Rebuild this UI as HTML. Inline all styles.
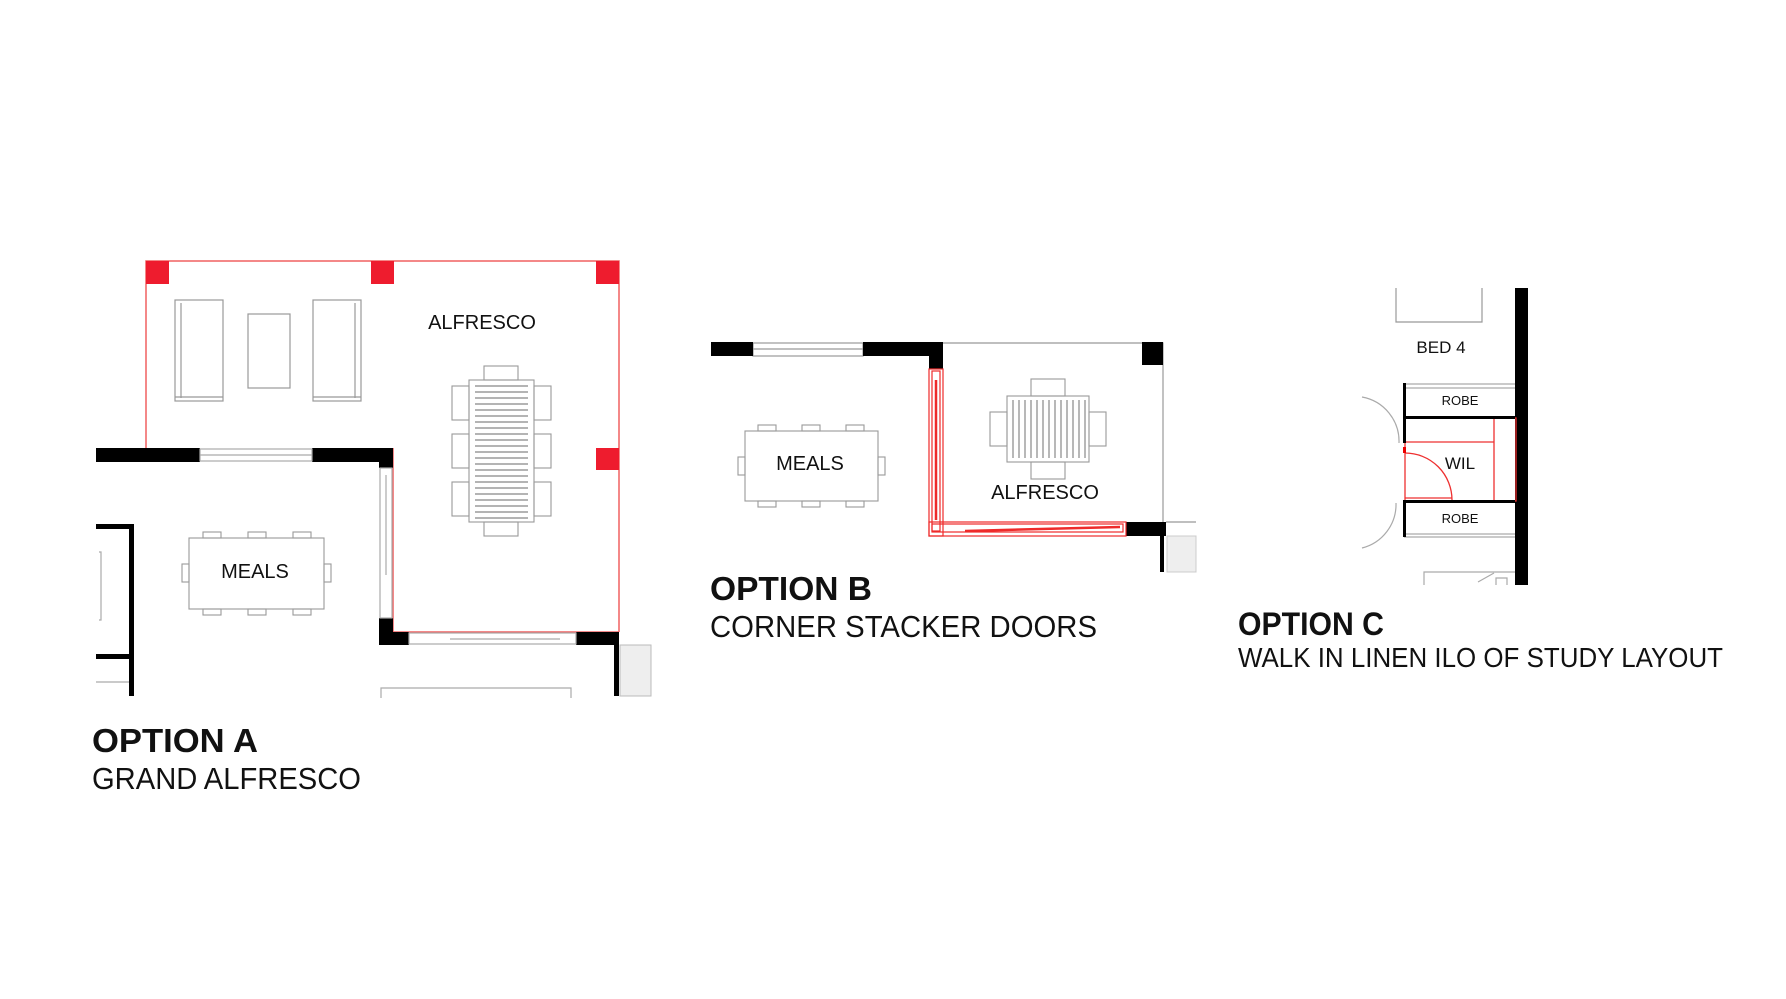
<!DOCTYPE html>
<html><head><meta charset="utf-8"><style>
html,body{margin:0;padding:0;background:#fff;}
svg{display:block;}
text{font-family:"Liberation Sans",sans-serif;fill:#111;}
</style></head><body>
<svg width="1786" height="999" viewBox="0 0 1786 999" xmlns="http://www.w3.org/2000/svg">
<!-- ===== OPTION A ===== -->
<g fill="none" stroke="#f06060" stroke-width="1.5">
  <polyline points="146,448 146,261 619,261 619,632"/>
  <polyline points="393,448 393,632 619,632"/>
</g>
<g fill="#ee1c2e">
  <rect x="146" y="261" width="23" height="23"/>
  <rect x="371" y="261" width="23" height="23"/>
  <rect x="596" y="261" width="23" height="23"/>
  <rect x="596" y="448" width="23" height="22"/>
</g>
<!-- sofas -->
<g fill="none" stroke="#999" stroke-width="1.2">
  <rect x="175" y="300" width="48" height="101"/>
  <line x1="181" y1="303" x2="181" y2="398"/>
  <line x1="175" y1="397" x2="223" y2="397"/>
  <rect x="248" y="314" width="42" height="74"/>
  <rect x="313" y="300" width="48" height="101"/>
  <line x1="355" y1="303" x2="355" y2="398"/>
  <line x1="313" y1="397" x2="361" y2="397"/>
</g>
<text x="482" y="329" font-size="20" text-anchor="middle">ALFRESCO</text>
<!-- dining table A -->
<g fill="none" stroke="#999" stroke-width="1.1">
  <rect x="469" y="380" width="65" height="142"/>
  <rect x="484" y="366" width="34" height="14"/>
  <rect x="484" y="522" width="34" height="14"/>
  <rect x="452" y="386" width="17" height="34"/><rect x="452" y="434" width="17" height="34"/><rect x="452" y="482" width="17" height="34"/>
  <rect x="534" y="386" width="17" height="34"/><rect x="534" y="434" width="17" height="34"/><rect x="534" y="482" width="17" height="34"/>
</g>
<g stroke="#888" stroke-width="1.3">
  <line x1="475" y1="386" x2="528" y2="386"/><line x1="475" y1="392" x2="528" y2="392"/><line x1="475" y1="398" x2="528" y2="398"/><line x1="475" y1="404" x2="528" y2="404"/><line x1="475" y1="410" x2="528" y2="410"/><line x1="475" y1="416" x2="528" y2="416"/><line x1="475" y1="422" x2="528" y2="422"/><line x1="475" y1="428" x2="528" y2="428"/><line x1="475" y1="434" x2="528" y2="434"/><line x1="475" y1="440" x2="528" y2="440"/><line x1="475" y1="446" x2="528" y2="446"/><line x1="475" y1="452" x2="528" y2="452"/><line x1="475" y1="458" x2="528" y2="458"/><line x1="475" y1="464" x2="528" y2="464"/><line x1="475" y1="470" x2="528" y2="470"/><line x1="475" y1="476" x2="528" y2="476"/><line x1="475" y1="482" x2="528" y2="482"/><line x1="475" y1="488" x2="528" y2="488"/><line x1="475" y1="494" x2="528" y2="494"/><line x1="475" y1="500" x2="528" y2="500"/><line x1="475" y1="506" x2="528" y2="506"/><line x1="475" y1="512" x2="528" y2="512"/><line x1="475" y1="518" x2="528" y2="518"/>
</g>
<!-- walls A -->
<g fill="#000">
  <rect x="96" y="448" width="104" height="14"/>
  <rect x="312" y="448" width="81" height="14"/>
  <rect x="379" y="448" width="14" height="20"/>
  <rect x="379" y="618" width="14" height="27"/>
  <rect x="379" y="632" width="30" height="13"/>
  <rect x="576" y="632" width="43" height="13"/>
  <rect x="614" y="632" width="5" height="64"/>
  <rect x="129" y="524" width="5" height="172"/>
  <rect x="96" y="524" width="38" height="5"/>
  <rect x="96" y="654" width="38" height="5"/>
</g>
<g fill="none" stroke="#aaa" stroke-width="1.2">
  <rect x="200" y="449" width="112" height="12"/>
  <line x1="200" y1="455" x2="312" y2="455"/>
  <rect x="380" y="468" width="12" height="150"/>
  <line x1="386" y1="475" x2="386" y2="575"/>
  <rect x="409" y="633" width="167" height="11"/>
  <line x1="450" y1="639" x2="560" y2="639"/>
  <polyline points="381,698 381,688 571,688 571,698"/>
  <polyline points="99,552 101,552 101,620 99,620"/>
  <line x1="96" y1="682" x2="129" y2="682"/>
</g>
<rect x="620" y="645" width="31" height="51" fill="#eee" stroke="#bbb"/>
<!-- meals A -->
<g fill="none" stroke="#999" stroke-width="1.1">
  <rect x="189" y="538" width="135" height="71"/>
  <rect x="203" y="532" width="18" height="6"/><rect x="248" y="532" width="18" height="6"/><rect x="293" y="532" width="18" height="6"/>
  <rect x="203" y="609" width="18" height="6"/><rect x="248" y="609" width="18" height="6"/><rect x="293" y="609" width="18" height="6"/>
  <rect x="182" y="564" width="7" height="18"/><rect x="324" y="564" width="7" height="18"/>
</g>
<text x="255" y="578" font-size="20" text-anchor="middle">MEALS</text>
<text x="92" y="752" font-size="33" font-weight="bold" textLength="166" lengthAdjust="spacingAndGlyphs">OPTION A</text>
<text x="92" y="789" font-size="31" textLength="269" lengthAdjust="spacingAndGlyphs">GRAND ALFRESCO</text>

<!-- ===== OPTION B ===== -->
<g fill="none" stroke="#999" stroke-width="1.2">
  <polyline points="943,343 1163,343 1163,522"/>
  <rect x="753" y="343" width="110" height="13"/>
  <line x1="753" y1="349" x2="863" y2="349"/>
  <line x1="1166" y1="522" x2="1196" y2="522"/>
</g>
<rect x="1167" y="536" width="29" height="36" fill="#eee" stroke="#ccc"/>
<g fill="#000">
  <rect x="711" y="342" width="42" height="14"/>
  <rect x="863" y="342" width="80" height="14"/>
  <rect x="929" y="342" width="14" height="27"/>
  <rect x="1142" y="342" width="21" height="23"/>
  <rect x="1126" y="522" width="40" height="14"/>
  <rect x="1160" y="522" width="4" height="50"/>
</g>
<g fill="none" stroke="#ee2a2a" stroke-width="1.2">
  <rect x="929" y="369" width="14" height="167"/>
  <rect x="932" y="371" width="8" height="160"/>
  <rect x="929" y="522" width="197" height="14"/>
  <rect x="932" y="524" width="191" height="8"/>
</g>
<g stroke="#ee2a2a" stroke-width="2.5">
  <line x1="936" y1="380" x2="936" y2="520"/>
  <line x1="965" y1="531" x2="1120" y2="527"/>
</g>
<!-- alfresco table B -->
<g fill="none" stroke="#999" stroke-width="1.1">
  <rect x="1007" y="396" width="82" height="66"/>
  <rect x="1031" y="379" width="34" height="17"/>
  <rect x="1031" y="462" width="34" height="17"/>
  <rect x="990" y="412" width="17" height="34"/>
  <rect x="1089" y="412" width="17" height="34"/>
</g>
<g stroke="#888" stroke-width="1.2">
  <line x1="1013" y1="400" x2="1013" y2="458"/><line x1="1019" y1="400" x2="1019" y2="458"/><line x1="1025" y1="400" x2="1025" y2="458"/><line x1="1031" y1="400" x2="1031" y2="458"/><line x1="1037" y1="400" x2="1037" y2="458"/><line x1="1043" y1="400" x2="1043" y2="458"/><line x1="1049" y1="400" x2="1049" y2="458"/><line x1="1055" y1="400" x2="1055" y2="458"/><line x1="1061" y1="400" x2="1061" y2="458"/><line x1="1067" y1="400" x2="1067" y2="458"/><line x1="1073" y1="400" x2="1073" y2="458"/><line x1="1079" y1="400" x2="1079" y2="458"/><line x1="1085" y1="400" x2="1085" y2="458"/>
</g>
<text x="1045" y="499" font-size="20" text-anchor="middle">ALFRESCO</text>
<!-- meals B -->
<g fill="none" stroke="#999" stroke-width="1.1">
  <rect x="745" y="431" width="133" height="70"/>
  <rect x="758" y="425" width="18" height="6"/><rect x="802" y="425" width="18" height="6"/><rect x="846" y="425" width="18" height="6"/>
  <rect x="758" y="501" width="18" height="6"/><rect x="802" y="501" width="18" height="6"/><rect x="846" y="501" width="18" height="6"/>
  <rect x="738" y="457" width="7" height="18"/><rect x="878" y="457" width="7" height="18"/>
</g>
<text x="810" y="470" font-size="20" text-anchor="middle">MEALS</text>
<text x="710" y="600" font-size="33" font-weight="bold" textLength="162" lengthAdjust="spacingAndGlyphs">OPTION B</text>
<text x="710" y="637" font-size="31" textLength="387" lengthAdjust="spacingAndGlyphs">CORNER  STACKER   DOORS</text>

<!-- ===== OPTION C ===== -->
<rect x="1515" y="288" width="13" height="297" fill="#000"/>
<polyline points="1396,288 1396,322 1482,322 1482,288" fill="none" stroke="#999" stroke-width="1.2"/>
<text x="1441" y="353" font-size="17" text-anchor="middle">BED 4</text>
<g fill="none" stroke="#aaa" stroke-width="1.2">
  <line x1="1404" y1="384" x2="1515" y2="384"/><line x1="1404" y1="388" x2="1515" y2="388"/>
  <line x1="1404" y1="534" x2="1515" y2="534"/><line x1="1404" y1="537" x2="1515" y2="537"/>
  <path d="M1362,397 A45,45 0 0 1 1399,443"/>
  <path d="M1396,503 A45,45 0 0 1 1362,548"/>
  <polyline points="1424,585 1424,572 1515,572"/>
  <polyline points="1496,585 1496,578 1507,578 1507,585"/>
  <line x1="1478" y1="582" x2="1494" y2="573"/>
</g>
<g fill="none" stroke="#ee3030" stroke-width="1.3">
  <rect x="1405" y="418" width="111" height="83"/>
  <line x1="1494" y1="418" x2="1494" y2="501"/>
  <line x1="1405" y1="442" x2="1494" y2="442"/>
  <path d="M1405,453 A47,47 0 0 1 1452,500"/>
  <line x1="1405" y1="498" x2="1452" y2="498"/>
</g>
<g fill="#000">
  <rect x="1403" y="383" width="3" height="60"/>
  <rect x="1403" y="416" width="112" height="3"/>
  <rect x="1403" y="500" width="112" height="3"/>
  <rect x="1403" y="500" width="3" height="37"/>
</g>
<rect x="1403" y="447" width="3" height="6" fill="#e00"/>
<text x="1460" y="405" font-size="13" text-anchor="middle">ROBE</text>
<text x="1460" y="469" font-size="17" text-anchor="middle">WIL</text>
<text x="1460" y="523" font-size="13" text-anchor="middle">ROBE</text>
<text x="1238" y="635" font-size="32" font-weight="bold" textLength="146" lengthAdjust="spacingAndGlyphs">OPTION C</text>
<text x="1238" y="667" font-size="28" textLength="485" lengthAdjust="spacingAndGlyphs">WALK  IN LINEN ILO OF STUDY   LAYOUT</text>
</svg>
</body></html>
